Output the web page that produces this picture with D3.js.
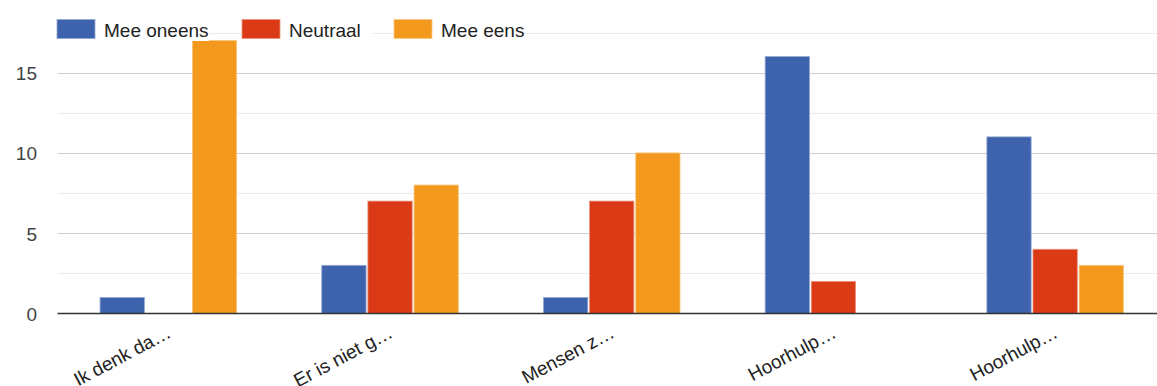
<!DOCTYPE html>
<html>
<head>
<meta charset="utf-8">
<script src="https://cdn.jsdelivr.net/npm/d3@7"></script>
<style>
  html, body { margin: 0; padding: 0; background: #fff; }
  svg { display: block; font-family: "Liberation Sans", Arial, sans-serif; }
</style>
</head>
<body>
<svg id="chart" width="1157" height="386"></svg>
<script>
// Survey answers per statement
const categories = ["Ik denk da…", "Er is niet g…", "Mensen z…", "Hoorhulp…", "Hoorhulp…"];
const seriesNames = ["Mee oneens", "Neutraal", "Mee eens"];
const meeOneens = [1, 3, 1, 16, 11];
const neutraal = [0, 7, 7, 2, 4];
const meeEens = [17, 8, 10, 0, 3];
const seriesColors = ["#3c63ac", "#db3a16", "#f39a1e"];
const yTicks = [0, 5, 10, 15];
const yMinorTicks = [2.5, 7.5, 12.5, 17.5];

const values = [meeOneens, neutraal, meeEens];
const rows = categories.map((c, i) => ({
  idx: i,
  label: c,
  vals: seriesNames.map((s, j) => ({ key: j, value: values[j][i] }))
}));

const svg = d3.select("#chart");
const plotLeft = 57.5, plotRight = 1166, plotTop = 32.5, plotBottom = 313.5;

const y = d3.scaleLinear().domain([0, 17.5]).range([plotBottom, plotTop]);
const x0 = d3.scaleBand().domain(d3.range(categories.length))
  .range([plotLeft, plotRight]).paddingInner(0.384).paddingOuter(0.192);
const x1 = d3.scaleBand().domain(d3.range(seriesNames.length))
  .range([0, x0.bandwidth()]).paddingInner(0.04);

// grid lines
svg.append("g").selectAll("line").data(yMinorTicks).join("line")
  .attr("x1", plotLeft).attr("x2", 1157)
  .attr("y1", d => Math.round(y(d)) + 0.5).attr("y2", d => Math.round(y(d)) + 0.5)
  .attr("stroke", "#ebebeb").attr("stroke-width", 1.2);
svg.append("g").selectAll("line").data(yTicks.filter(d => d > 0)).join("line")
  .attr("x1", plotLeft).attr("x2", 1157)
  .attr("y1", d => Math.round(y(d)) + 0.5).attr("y2", d => Math.round(y(d)) + 0.5)
  .attr("stroke", "#cccccc").attr("stroke-width", 1.2);

// y axis labels
const yAxis = d3.axisLeft(y).tickValues(yTicks).tickSize(0).tickPadding(0);
const yg = svg.append("g").attr("transform", "translate(37,0)").call(yAxis);
yg.select(".domain").remove();
yg.selectAll("text").attr("font-size", 19).attr("fill", "#444")
  .attr("font-family", "Liberation Sans, Arial, sans-serif").attr("dy", "0.36em");

// bars
const groups = svg.append("g").selectAll("g").data(rows).join("g")
  .attr("transform", d => `translate(${x0(d.idx)},0)`);
groups.selectAll("rect").data(d => d.vals.filter(v => v.value > 0)).join("rect")
  .attr("x", d => x1(d.key))
  .attr("width", x1.bandwidth())
  .attr("y", d => y(d.value))
  .attr("height", d => y(0) - y(d.value))
  .attr("fill", d => seriesColors[d.key])
  .attr("stroke", d => d3.interpolateRgb(seriesColors[d.key], "#fff")(0.45))
  .attr("stroke-width", 0.8);

// baseline
svg.append("line").attr("x1", plotLeft).attr("x2", 1157)
  .attr("y1", y(0)).attr("y2", y(0))
  .attr("stroke", "#333").attr("stroke-width", 1.6);

// x axis labels (long statements, truncated and slanted)
const xAxis = d3.axisBottom(x0).tickSize(0).tickPadding(0).tickFormat(i => categories[i]);
const xg = svg.append("g").attr("transform", `translate(0,${plotBottom})`).call(xAxis);
xg.select(".domain").remove();
xg.selectAll("text")
  .attr("font-size", 19).attr("fill", "#222")
  .attr("font-family", "Liberation Sans, Arial, sans-serif")
  .attr("text-anchor", "end")
  .attr("dy", 0).attr("y", 0)
  .attr("transform", "translate(4,23) rotate(-28)");

// legend
const legendItems = [
  { x: 57, tx: 104 },
  { x: 242, tx: 289 },
  { x: 394, tx: 441 }
];
const lg = svg.append("g");
const li = lg.selectAll("g").data(seriesNames).join("g")
  .attr("transform", (d, i) => `translate(${legendItems[i].x},0)`);
li.append("rect").attr("x", -1).attr("y", 17).attr("height", 24)
  .attr("width", (d, i) => legendItems[i].tx - legendItems[i].x + d.length * 10.6)
  .attr("fill", "#fff");
li.append("rect").attr("x", 0).attr("y", 19.5).attr("width", 38).attr("height", 19)
  .attr("fill", (d, i) => seriesColors[i])
  .attr("stroke", (d, i) => d3.interpolateRgb(seriesColors[i], "#fff")(0.45))
  .attr("stroke-width", 0.8);
li.append("text").attr("x", (d, i) => legendItems[i].tx - legendItems[i].x)
  .attr("y", 37.3)
  .attr("font-size", 19).attr("fill", "#222").text(d => d);
</script>
</body>
</html>
